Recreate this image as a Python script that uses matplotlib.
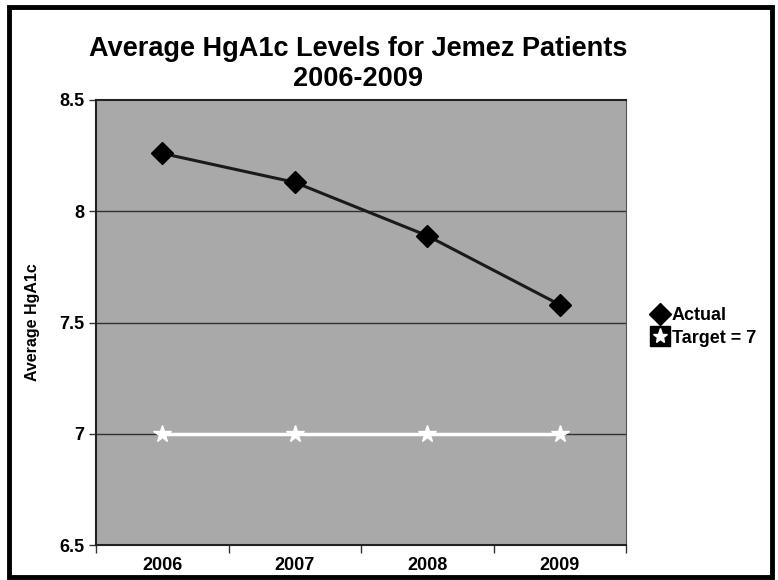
import matplotlib.pyplot as plt
from matplotlib.patches import Rectangle
from matplotlib.lines import Line2D
from matplotlib.legend_handler import HandlerTuple

years = ["2006", "2007", "2008", "2009"]
actual = [8.26, 8.13, 7.89, 7.58]
target = [7, 7, 7, 7]

plt.rcParams["font.family"] = ["Liberation Sans", "DejaVu Sans"]
plt.rcParams["font.weight"] = "bold"

fig = plt.figure(figsize=(7.78, 5.8), dpi=100)
ax = fig.add_axes([96 / 778, 1 - 545 / 580, 530 / 778, 445 / 580])

# black frame round the whole chart
fig.patches.append(Rectangle((9 / 778, 3 / 580), 763 / 778, 570 / 580, transform=fig.transFigure,
                             fill=False, edgecolor="black", linewidth=3.5))

x = range(len(years))
ax.set_facecolor("#a9a9a9")
for v in [7, 7.5, 8]:
    ax.axhline(v, color="#303030", linewidth=1, zorder=1)

ax.plot(x, actual, color="#1a1a1a", linewidth=2.2, marker="D", markersize=11,
        markerfacecolor="black", markeredgecolor="black", zorder=3)
ax.plot(x, target, color="white", linewidth=2.5, marker="*", markersize=13,
        markerfacecolor="white", markeredgecolor="white", zorder=3)

ax.set_xlim(-0.5, 3.5)
ax.set_ylim(6.5, 8.5)
ax.set_yticks([6.5, 7, 7.5, 8, 8.5])
ax.set_yticklabels(["6.5", "7", "7.5", "8", "8.5"])
ax.set_xticks([-0.5, 0.5, 1.5, 2.5, 3.5])
ax.set_xticklabels([])
ax.set_xticks(list(x), minor=True)
ax.set_xticklabels(years, minor=True)
ax.tick_params(axis="x", which="major", direction="out", length=6, width=1, color="#333333")
ax.tick_params(axis="x", which="minor", length=0, labelsize=13, pad=9)
ax.tick_params(axis="y", direction="out", length=5, width=1, labelsize=13, color="#333333")

for s in ["left", "bottom", "top"]:
    ax.spines[s].set_color("#222222")
    ax.spines[s].set_linewidth(1.5)
ax.spines["right"].set_color("#555555")

ax.set_ylabel("Average HgA1c", fontsize=11.5, fontweight="bold", labelpad=14)
fig.text(358 / 778, 1 - 64 / 580, "Average HgA1c Levels for Jemez Patients\n2006-2009",
         ha="center", va="center", fontsize=19.5, fontweight="bold", linespacing=1.2)

h_actual = Line2D([], [], linestyle="none", marker="D", markersize=11, color="black")
h_box = Line2D([], [], linestyle="none", marker="s", markersize=14, color="black")
h_star = Line2D([], [], linestyle="none", marker="*", markersize=11, color="white")
ax.legend([h_actual, (h_box, h_star)], ["Actual", "Target = 7"],
          handler_map={tuple: HandlerTuple(ndivide=1, pad=0)},
          loc="center left", bbox_to_anchor=(1.035, 0.49), frameon=False,
          fontsize=13, handlelength=0.9, handletextpad=0.2, labelspacing=0.3,
          borderaxespad=0)

fig.savefig("out.png", dpi=100)
